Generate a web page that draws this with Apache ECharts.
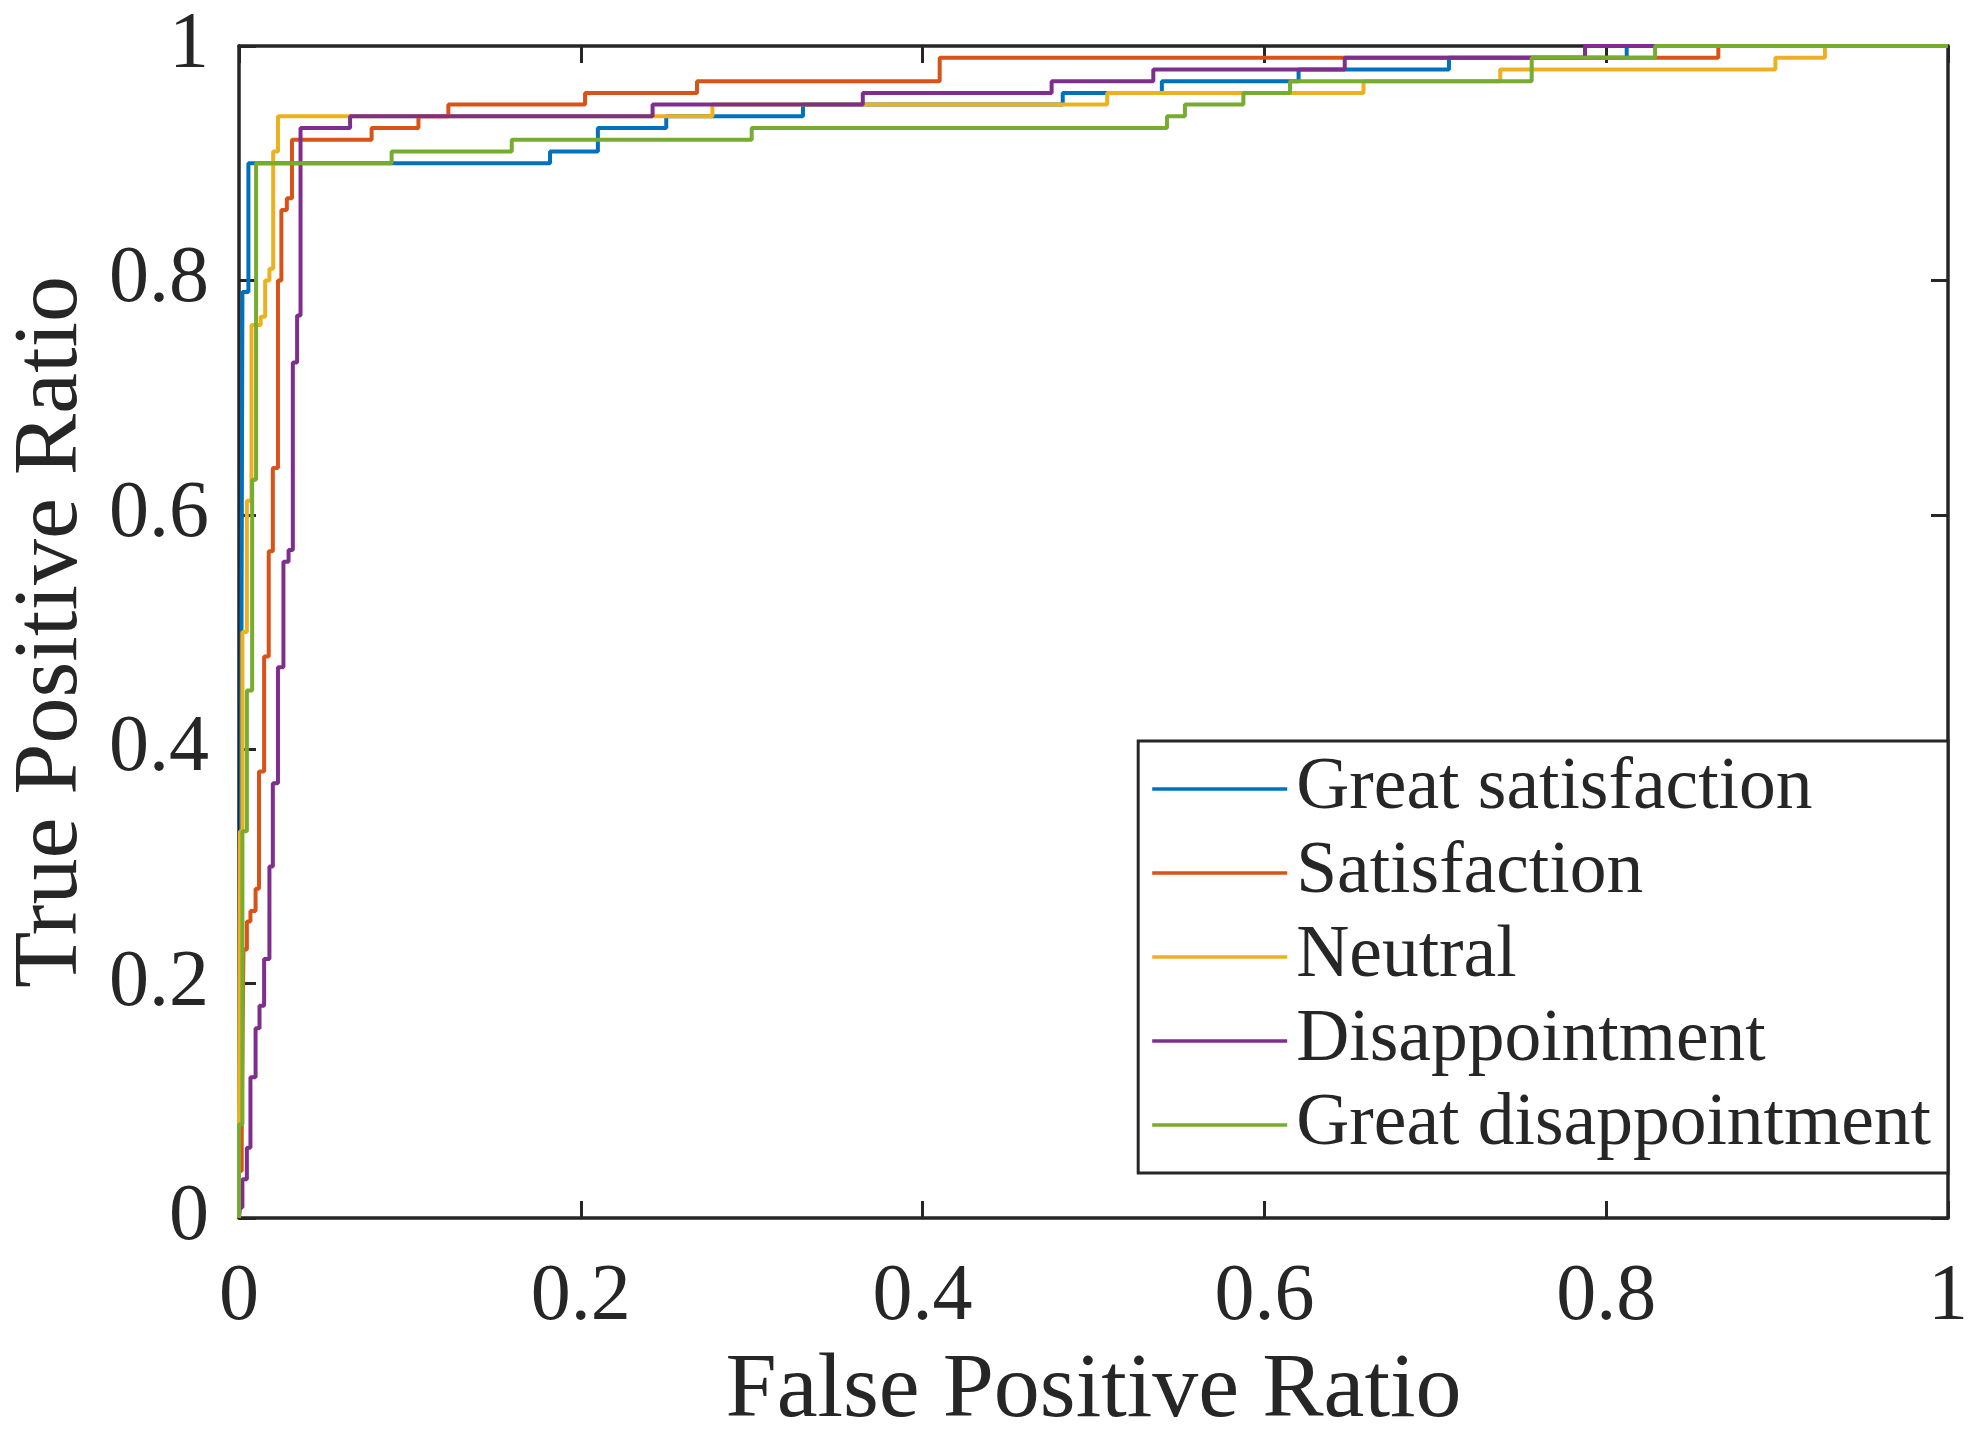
<!DOCTYPE html>
<html>
<head>
<meta charset="utf-8">
<script src="https://cdn.jsdelivr.net/npm/echarts@6/dist/echarts.min.js"></script>
<style>
  html, body { margin: 0; background: #fff; }
  #roc { width: 1973px; height: 1440px; }
</style>
</head>
<body>
<div id="roc"></div>
<script>
// ROC curves, one per class (false positive ratio / true positive ratio corners)
var classNames = ['Great satisfaction', 'Satisfaction', 'Neutral', 'Disappointment', 'Great disappointment'];
var classColors = ['#0072BD', '#D95319', '#EDB120', '#7E2F8E', '#77AC30'];

var greatSatFpr = [0, 0, 0.001, 0.002, 0.0055, 0.182, 0.210, 0.250, 0.330, 0.482, 0.540, 0.620, 0.708, 0.812, 1];
var greatSatTpr = [0, 0.18, 0.25, 0.79, 0.90, 0.91, 0.93, 0.94, 0.95, 0.96, 0.97, 0.98, 0.99, 1.0, 1.0];

var satFpr = [0, 0, 0.0016, 0.0026, 0.0046, 0.0067, 0.0097, 0.0117, 0.0147, 0.0174, 0.0198, 0.0228, 0.0248, 0.028, 0.031, 0.0776, 0.105, 0.1225, 0.2025, 0.268, 0.410, 0.8656, 1];
var satTpr = [0, 0.04, 0.085, 0.229, 0.253, 0.262, 0.281, 0.381, 0.479, 0.569, 0.64, 0.80, 0.86, 0.87, 0.92, 0.93, 0.94, 0.95, 0.96, 0.97, 0.99, 1.0, 1.0];

var neutralFpr = [0, 0, 0.0006, 0.002, 0.0046, 0.0073, 0.0127, 0.0153, 0.0178, 0.020, 0.0228, 0.277, 0.508, 0.658, 0.738, 0.899, 0.928, 1];
var neutralTpr = [0, 0.08, 0.33, 0.50, 0.612, 0.762, 0.769, 0.80, 0.81, 0.91, 0.94, 0.95, 0.96, 0.97, 0.98, 0.99, 1.0, 1.0];

var disFpr = [0, 0.0006, 0.002, 0.0046, 0.0067, 0.0097, 0.012, 0.0147, 0.0178, 0.0198, 0.0228, 0.026, 0.029, 0.0315, 0.034, 0.036, 0.065, 0.242, 0.365, 0.4755, 0.535, 0.647, 0.7876, 1];
var disTpr = [0, 0.009, 0.033, 0.06, 0.12, 0.162, 0.181, 0.221, 0.30, 0.371, 0.47, 0.56, 0.57, 0.73, 0.77, 0.93, 0.94, 0.95, 0.96, 0.97, 0.98, 0.99, 1.0, 1.0];

var greatDisFpr = [0, 0, 0.002, 0.0046, 0.0077, 0.010, 0.0893, 0.1596, 0.300, 0.543, 0.5535, 0.5877, 0.615, 0.7564, 0.8286, 1];
var greatDisTpr = [0, 0.08, 0.33, 0.45, 0.63, 0.90, 0.91, 0.92, 0.93, 0.94, 0.95, 0.96, 0.97, 0.99, 1.0, 1.0];

var curves = [
  [greatSatFpr, greatSatTpr],
  [satFpr, satTpr],
  [neutralFpr, neutralTpr],
  [disFpr, disTpr],
  [greatDisFpr, greatDisTpr]
];

var axisColor = '#262626';
var serif = 'Liberation Serif';

function pairs(xs, ys) {
  return xs.map(function (x, i) { return [x, ys[i]]; });
}

// every side of the box is an axis with inward ticks, like a matlab "box on"
function boxAxis(position, extra) {
  var axis = {
    type: 'value',
    position: position,
    min: 0,
    max: 1,
    interval: 0.2,
    axisLine: { show: true, onZero: false, lineStyle: { color: axisColor, width: 3.5 } },
    axisTick: { show: true, inside: true, length: 17, lineStyle: { color: axisColor, width: 3 } },
    axisLabel: { show: false },
    splitLine: { show: false }
  };
  return Object.assign(axis, extra || {});
}

var myChart = echarts.init(document.getElementById('roc'));
var option = {
  animation: false,
  backgroundColor: '#fff',
  grid: { left: 239, right: 25, top: 46, bottom: 222, containLabel: false, outerBoundsMode: 'none' },
  xAxis: [
    boxAxis('bottom', {
      axisLabel: { show: true, fontSize: 80, fontFamily: serif, color: axisColor, margin: 40 },
      name: 'False Positive Ratio',
      nameLocation: 'middle',
      nameGap: 128,
      nameTextStyle: { fontSize: 92, fontFamily: serif, color: axisColor }
    }),
    boxAxis('top')
  ],
  yAxis: [
    boxAxis('left', {
      axisLabel: { show: true, fontSize: 80, fontFamily: serif, color: axisColor, margin: 30 },
      name: 'True Positive Ratio',
      nameLocation: 'middle',
      nameGap: 134,
      nameTextStyle: { fontSize: 92, fontFamily: serif, color: axisColor }
    }),
    boxAxis('right')
  ],
  legend: {
    data: classNames,
    orient: 'vertical',
    right: 25,
    top: 741,
    icon: 'rect',
    itemWidth: 135,
    itemHeight: 3.5,
    itemGap: 0,
    padding: [6, 17, 6, 14],
    backgroundColor: '#fff',
    borderColor: axisColor,
    borderWidth: 3,
    borderRadius: 0,
    textStyle: { fontSize: 73.5, fontFamily: serif, color: axisColor, lineHeight: 84, padding: [0, 0, 0, 4] }
  },
  series: classNames.map(function (name, i) {
    return {
      name: name,
      type: 'line',
      step: 'end',
      showSymbol: false,
      symbol: 'none',
      color: classColors[i],
      lineStyle: { width: 4, color: classColors[i] },
      data: pairs(curves[i][0], curves[i][1])
    };
  })
};

myChart.setOption(option);
</script>
</body>
</html>
